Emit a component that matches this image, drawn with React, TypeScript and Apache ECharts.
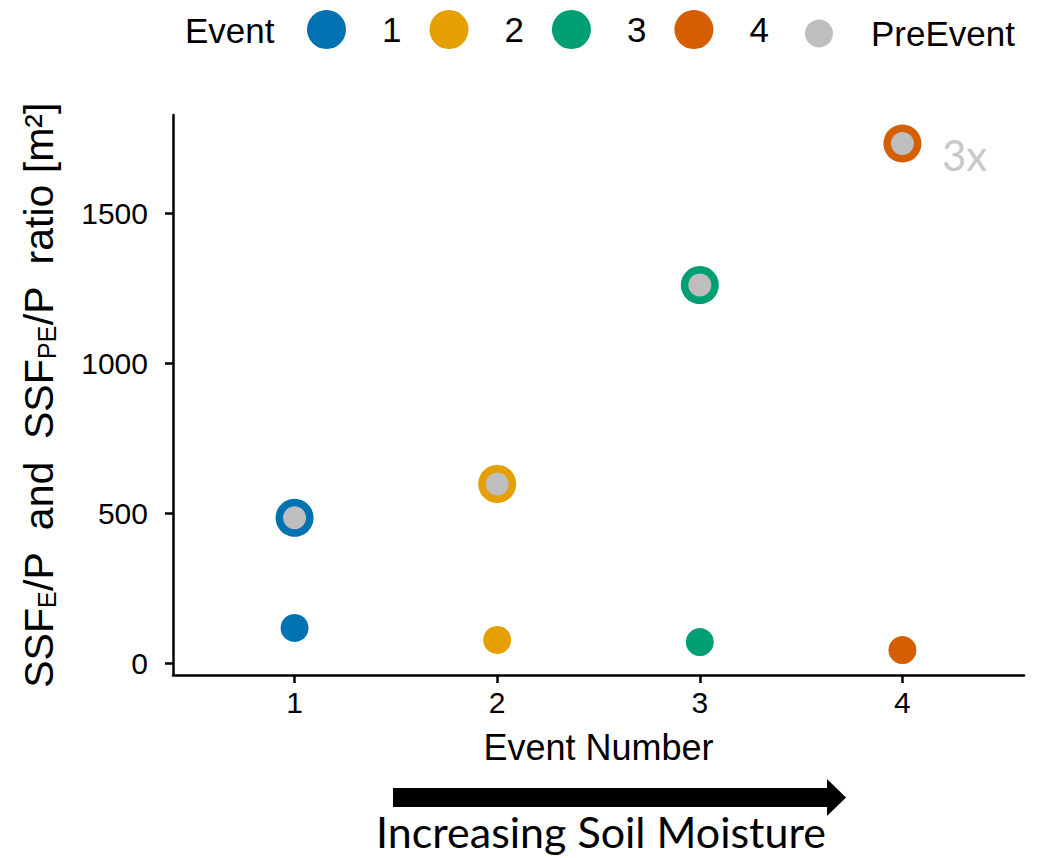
import React, { useEffect, useRef } from "react";
import * as echarts from "echarts";

// ---- data ----
const eventNames = ["1", "2", "3", "4"];
const eventNumbers = [1, 2, 3, 4];
const eventRatio = [117, 77, 70, 43];
const preEventRatio = [484, 597, 1260, 1732];
const eventColors = ["#0072B2", "#E69F00", "#009E73", "#D55E00"];
const preEventColor = "#BEBEBE";
const xTicks = [1, 2, 3, 4];
const yTicks = [0, 500, 1000, 1500];
const multiplierNote = "3x";

const FONT = "'Liberation Sans', Arial, Helvetica, sans-serif";
const CAL = "Lato, 'Open Sans', sans-serif";

export default function App() {
  const ref = useRef<HTMLDivElement>(null);

  useEffect(() => {
    document.body.style.margin = "0";
    if (!ref.current) return;
    const chart = echarts.init(ref.current, null, { renderer: "svg" });

    const eventSeries = eventNames.map((name, i) => ({
      name,
      type: "scatter",
      symbol: "circle",
      symbolSize: 28,
      itemStyle: { color: eventColors[i], opacity: 1 },
      z: 2,
      data: [
        [eventNumbers[i], eventRatio[i]],
        { value: [eventNumbers[i], preEventRatio[i]], symbolSize: 38 },
      ],
    }));

    const preSeries = {
      name: "PreEvent",
      type: "scatter",
      symbol: "circle",
      symbolSize: 23,
      itemStyle: { color: preEventColor, opacity: 1 },
      z: 3,
      data: eventNumbers.map((x, i) =>
        i === eventNumbers.length - 1
          ? {
              value: [x, preEventRatio[i]],
              label: {
                show: true,
                formatter: multiplierNote,
                position: "right",
                distance: 28,
                offset: [0, 12],
                color: "#C8C8C8",
                fontSize: 42,
                fontFamily: CAL,
              },
            }
          : [x, preEventRatio[i]]
      ),
    };

    const option: any = {
      animation: false,
      backgroundColor: "#ffffff",
      grid: {
        left: 173,
        right: 26,
        top: 115,
        bottom: 183,
        outerBoundsMode: "none",
        containLabel: false,
      },
      legend: [
        {
          data: eventNames,
          left: 302,
          top: 5,
          orient: "horizontal",
          icon: "circle",
          itemWidth: 39,
          itemHeight: 39,
          itemGap: 28,
          selectedMode: false,
          textStyle: {
            fontSize: 35,
            fontFamily: FONT,
            color: "#000",
            padding: [0, 0, 0, 31],
          },
        },
        {
          data: ["PreEvent"],
          left: 800,
          top: 11,
          icon: "circle",
          itemWidth: 28,
          itemHeight: 28,
          selectedMode: false,
          textStyle: {
            fontSize: 35,
            fontFamily: FONT,
            color: "#000",
            padding: [0, 0, 0, 33],
          },
        },
      ],
      xAxis: {
        type: "value",
        min: 0.4,
        max: 4.6,
        name: "Event Number",
        nameLocation: "middle",
        nameGap: 54,
        nameMoveOverlap: false,
        nameTextStyle: { fontSize: 36, fontFamily: FONT, color: "#000" },
        splitLine: { show: false },
        axisLine: { onZero: false, lineStyle: { color: "#000", width: 2.5 } },
        axisTick: {
          show: true,
          length: 8,
          customValues: xTicks,
          lineStyle: { color: "#000", width: 2.5 },
        },
        axisLabel: {
          customValues: xTicks,
          fontSize: 30,
          fontFamily: FONT,
          color: "#000",
          margin: 12,
          formatter: (v: number) => String(v),
        },
      },
      yAxis: {
        type: "value",
        min: -40,
        max: 1827,
        name: "{n|SSF}{s|E}{n|/P  and  SSF}{s|PE}{n|/P  ratio [m²]}",
        nameLocation: "middle",
        nameRotate: 90,
        nameGap: 114,
        nameMoveOverlap: false,
        nameTextStyle: {
          rich: {
            n: { fontSize: 41, fontFamily: FONT, color: "#000", lineHeight: 41 },
            s: {
              fontSize: 25,
              fontFamily: FONT,
              color: "#000",
              lineHeight: 25,
              verticalAlign: "bottom",
            },
          },
        },
        splitLine: { show: false },
        axisLine: { onZero: false, lineStyle: { color: "#000", width: 2.5 } },
        axisTick: {
          show: true,
          length: 8,
          customValues: yTicks,
          lineStyle: { color: "#000", width: 2.5 },
        },
        axisLabel: {
          customValues: yTicks,
          fontSize: 30,
          fontFamily: FONT,
          color: "#000",
          margin: 25,
          formatter: (v: number) => String(v),
        },
      },
      graphic: [
        {
          type: "text",
          x: 185,
          y: 30,
          style: {
            text: "Event",
            fontSize: 35,
            fontFamily: FONT,
            fill: "#000",
            verticalAlign: "middle",
          },
        },
        {
          type: "rect",
          shape: { x: 393, y: 788, width: 436, height: 19 },
          style: { fill: "#000" },
        },
        {
          type: "polygon",
          shape: {
            points: [
              [827, 779],
              [846, 797.5],
              [827, 816],
            ],
          },
          style: { fill: "#000" },
        },
        {
          type: "text",
          x: 601,
          y: 831,
          style: {
            text: "Increasing Soil Moisture",
            fontSize: 43,
            fontFamily: CAL,
            fill: "#000",
            align: "center",
            verticalAlign: "middle",
          },
        },
      ],
      series: [...eventSeries, preSeries],
    };

    chart.setOption(option);
    return () => chart.dispose();
  }, []);

  return <div ref={ref} style={{ width: 1050, height: 858 }} />;
}
